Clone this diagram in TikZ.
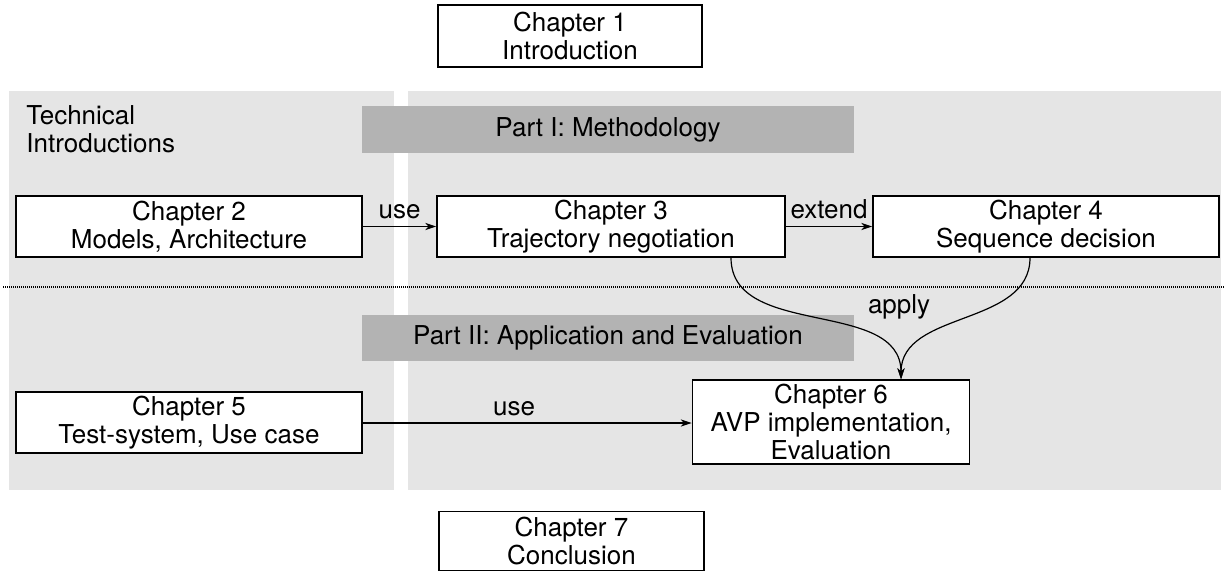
\documentclass[tikz,border=0pt]{standalone}
\usepackage{fontspec}
\setmainfont{TeX Gyre Heros}
\usetikzlibrary{arrows.meta,positioning}
\definecolor{partbg}{HTML}{E5E5E5}
\definecolor{bannerbg}{HTML}{B3B3B3}
\tikzset{
  chapter/.style={draw=black, fill=white, line width=0.75pt, inner sep=0pt,
    align=center, font=\fontsize{13pt}{14pt}\selectfont},
  banner/.style={fill=bannerbg, inner sep=0pt, minimum width=246pt,
    font=\fontsize{13pt}{14pt}\selectfont},
  arr/.style={line width=0.6pt, -{Stealth[length=5.5pt,width=3.6pt,inset=1.6pt]}},
  lbl/.style={inner sep=0pt, above=3.5pt, font=\fontsize{13pt}{14pt}\selectfont},
  plainlbl/.style={inner sep=0pt, font=\fontsize{13pt}{14pt}\selectfont},
  separator/.style={line width=0.6pt, dash pattern=on 0.5pt off 0.5pt}
}
\begin{document}
\begin{tikzpicture}[x=0.5pt, y=-0.5pt]
\useasboundingbox (0,0) rectangle (1224,572);

% shaded areas: technical introductions (left) and the two parts (right)
\fill[partbg] (9,91) rectangle (394,490);
\fill[partbg] (408,91) rectangle (1221,490);

% part banners
\node[banner, minimum height=23.5pt] (part1) at (608,129.5) {Part I: Methodology};
\node[banner, minimum height=23pt] (part2) at (608,338) {Part II: Application and Evaluation};

\node[plainlbl, anchor=north west, align=left] (techintro) at (26,105)
  {Technical\\Introductions};

% separator between the two parts
\coordinate (sepL) at (3,287);
\coordinate (sepR) at (1224,287);
\draw[separator] (sepL) -- (sepR);

% chapters
\node[chapter, minimum width=132pt, minimum height=31pt] (ch1) at (570,36)
  {Chapter 1\\Introduction};
\node[chapter, minimum width=173pt, minimum height=30.5pt] (ch2) at (189,226.5)
  {Chapter 2\\Models, Architecture};
\node[chapter, minimum width=174pt, minimum height=30.5pt] (ch3) at (611,226.5)
  {Chapter 3\\Trajectory negotiation};
\node[chapter, minimum width=173pt, minimum height=30.5pt] (ch4) at (1046,226.5)
  {Chapter 4\\Sequence decision};
\node[chapter, minimum width=173pt, minimum height=30.5pt] (ch5) at (189,422.5)
  {Chapter 5\\Test-system, Use case};
\node[chapter, minimum width=138.5pt, minimum height=42pt] (ch6) at (831,422)
  {Chapter 6\\AVP implementation,\\Evaluation};
\node[chapter, minimum width=132.5pt, minimum height=29.5pt] (ch7) at (571.5,541)
  {Chapter 7\\Conclusion};

% dependencies
\draw[arr] (ch2.east) -- node[lbl] {use} (ch3.west);
\draw[arr] (ch3.east) -- node[lbl] {extend} (ch4.west);
\draw[arr] ([yshift=-0.25pt]ch5.east) -- node[lbl, pos=0.46] {use}
  ([yshift=-0.25pt]ch5.east -| ch6.west);

\coordinate (applyin) at ([xshift=35pt]ch6.north);
\draw[arr] ([xshift=60pt]ch3.south) to[out=-90, in=90] (applyin);
\draw[arr] ([xshift=-8pt]ch4.south) to[out=-90, in=90] (applyin);
\node[plainlbl] (applylbl) at (899,307) {apply};
\end{tikzpicture}
\end{document}
